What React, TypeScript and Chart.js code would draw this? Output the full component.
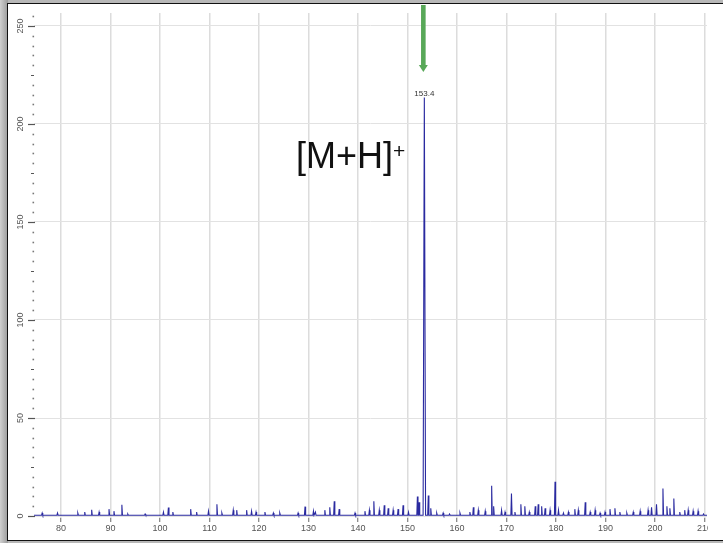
import React, { useEffect, useRef } from "react";
import { Chart, registerables } from "chart.js";
Chart.register(...registerables);

// m/z of each peak and its intensity
const peakMz = [
  76.2, 79.3, 83.4, 84.8, 86.2, 87.7, 89.7, 90.7, 92.3, 93.5, 97.0,
  100.7, 101.7, 102.6, 106.2, 107.4, 109.8, 111.5, 112.5, 114.8, 115.5, 117.5,
  118.5, 119.4, 121.2, 122.9, 124.2, 127.9, 129.3, 131.0, 131.4, 133.3, 134.3,
  135.2, 136.2, 139.4, 141.4, 142.3, 143.2, 144.3, 145.3, 146.1, 147.1, 148.1,
  149.1, 150.2, 152.0, 152.35, 153.4, 154.2, 154.7, 155.9, 157.2, 158.5, 160.6,
  162.6, 163.3, 164.3, 165.7, 167.0, 167.4, 169.0, 169.7, 171.0, 171.7, 172.9,
  173.7, 174.6, 175.8, 176.4, 177.1, 177.8, 178.8, 179.8, 180.5, 181.5, 182.5,
  183.8, 184.5, 185.9, 186.9, 187.9, 188.9, 189.9, 190.9, 191.9, 192.9, 194.3,
  195.6, 197.0, 198.6, 199.3, 200.3, 201.6, 202.4, 203.0, 203.8, 205.0, 206.0,
  206.7, 207.7, 208.7, 209.8,
];
const peakIntensity = [
  1.5, 1.5, 1.5, 2, 3.2, 2, 3.5, 2.5, 5.8, 1, 1,
  2, 4.3, 2, 3.5, 2, 2.5, 6, 1.5, 3, 3, 3,
  2.5, 2, 2, 1.5, 1.5, 1.5, 4.8, 2.5, 2, 3, 4.5,
  7.5, 3.5, 1.5, 2.5, 3, 7.5, 3, 5.5, 4, 3, 3.5,
  5.5, 2, 10, 7, 213.5, 10.5, 4, 1.5, 1.5, 1, 1.5,
  2, 4.5, 3, 2.5, 15.5, 5, 3, 2, 11.5, 2, 6,
  5, 2, 5, 6, 5, 4, 3, 17.5, 3, 1.5, 2,
  3.5, 3, 7, 2, 3, 1.5, 2, 3.5, 4, 2, 1.5,
  2, 2.5, 3, 4.5, 6, 14, 5, 4, 9, 2, 3,
  3, 2.5, 2.5, 1,
];
const baseLevel = 0.4;
const xMin = 74.55;
const xMax = 210.5;
const yMin = -1;
const yMax = 256.6;
const xStep = 10;
const yLabelValues = [0, 50, 100, 150, 200, 250];
const peakLabelMz = 153.4;
const peakLabelText = "153.4";
const ionText = "[M+H]";
const ionCharge = "+";

function buildPoints() {
  const pts: { x: number; y: number }[] = [{ x: xMin, y: baseLevel }];
  peakMz.forEach((mz, i) => {
    const v = peakIntensity[i];
    const hw = v > 100 ? 0.25 : 0.12;
    pts.push({ x: mz - hw, y: baseLevel }, { x: mz, y: v }, { x: mz + hw, y: baseLevel });
  });
  pts.push({ x: xMax, y: baseLevel });
  return pts;
}

const decor = {
  id: "decor",
  afterDraw(chart: any) {
    const ctx = chart.ctx;
    const y = chart.scales.y;
    const x = chart.scales.x;
    ctx.save();
    // y ticks: dots every 5, dash every 25, long dash every 50
    for (let v = 0; v <= 255; v += 5) {
      const py = Math.round(y.getPixelForValue(v)) + 0.5;
      ctx.strokeStyle = "#555";
      ctx.fillStyle = "#777";
      if (v % 50 === 0) {
        ctx.lineWidth = 1.2;
        ctx.beginPath();
        ctx.moveTo(28, py);
        ctx.lineTo(35, py);
        ctx.stroke();
      } else if (v % 25 === 0) {
        ctx.lineWidth = 1;
        ctx.beginPath();
        ctx.moveTo(31, py);
        ctx.lineTo(34, py);
        ctx.stroke();
      } else {
        ctx.fillRect(32.5, py - 0.8, 1.6, 1.6);
      }
    }
    ctx.font = "9px 'Liberation Sans', Arial, sans-serif";
    ctx.fillStyle = "#555";
    ctx.textAlign = "center";
    ctx.textBaseline = "middle";
    yLabelValues.forEach((v) => {
      const py = y.getPixelForValue(v);
      ctx.save();
      ctx.translate(21, py);
      ctx.rotate(-Math.PI / 2);
      ctx.fillText(String(v), 0, 0);
      ctx.restore();
    });
    // peak label
    const peakIdx = peakMz.indexOf(peakLabelMz);
    const px = x.getPixelForValue(peakLabelMz);
    const pTop = y.getPixelForValue(peakIntensity[peakIdx]);
    ctx.font = "8px 'Liberation Sans', Arial, sans-serif";
    ctx.fillStyle = "#333";
    ctx.textBaseline = "alphabetic";
    ctx.fillText(peakLabelText, px, pTop - 1.5);
    // green arrow
    const ax = px - 1;
    ctx.fillStyle = "#58a858";
    ctx.fillRect(ax - 2.3, 5, 4.6, 61);
    ctx.beginPath();
    ctx.moveTo(ax - 4.5, 65);
    ctx.lineTo(ax + 4.5, 65);
    ctx.lineTo(ax, 72);
    ctx.closePath();
    ctx.fill();
    ctx.restore();
  },
};

export default function App() {
  const ref = useRef<HTMLCanvasElement>(null);
  useEffect(() => {
    if (!ref.current) return;
    const chart = new Chart(ref.current, {
      type: "line",
      data: {
        datasets: [
          {
            data: buildPoints(),
            borderColor: "#2a2aa0",
            borderWidth: 1.1,
            pointRadius: 0,
            tension: 0,
            fill: false,
          },
        ],
      },
      options: {
        responsive: false,
        animation: false,
        parsing: true,
        layout: { padding: { left: 0, top: 13, right: 1, bottom: 0 } },
        plugins: { legend: { display: false }, tooltip: { enabled: false } },
        scales: {
          x: {
            type: "linear",
            min: xMin,
            max: xMax,
            border: { display: false },
            grid: { color: "#dcdcdc", lineWidth: 1.5, tickLength: 4, tickColor: "#666", tickWidth: 1 },
            ticks: {
              stepSize: xStep,
              includeBounds: false,
              padding: 1,
              color: "#555",
              font: { family: "'Liberation Sans', Arial, sans-serif", size: 9 },
              maxRotation: 0,
              autoSkip: false,
            },
            afterFit: (s: any) => {
              s.height = 25;
              s.paddingLeft = 0;
              s.paddingRight = 0;
            },
          },
          y: {
            type: "linear",
            min: yMin,
            max: yMax,
            border: { display: false },
            grid: { color: "#e2e2e2", lineWidth: 1, drawTicks: false },
            ticks: { display: false, stepSize: 50, includeBounds: false },
            afterFit: (s: any) => {
              s.width = 34;
              s.paddingTop = 0;
              s.paddingBottom = 0;
            },
          },
        },
      },
      plugins: [decor],
    });
    return () => chart.destroy();
  }, []);

  return (
    <div style={{ position: "fixed", left: 0, top: 0, width: 723, height: 543, overflow: "hidden", background: "#b8b8b8" }}>
      <div style={{ position: "absolute", left: 0, top: 0, width: 8, height: 543, background: "linear-gradient(to right, #d0d0d0, #9a9a9a)" }} />
      <div
        style={{
          position: "absolute",
          left: 7,
          top: 3,
          width: 730,
          height: 536,
          background: "#fff",
          borderLeft: "1.5px solid #111",
          borderTop: "1.5px solid #111",
          borderBottom: "1.5px solid #111",
        }}
      />
      <canvas ref={ref} width={708} height={543} style={{ position: "absolute", left: 0, top: 0, display: "block" }} />
      <div
        style={{
          position: "absolute",
          left: 296,
          top: 138,
          fontFamily: "'Liberation Sans', Arial, sans-serif",
          fontSize: 36,
          lineHeight: "36px",
          color: "#111",
          whiteSpace: "nowrap",
        }}
      >
        {ionText}
        <span style={{ fontSize: 21, position: "relative", top: -10 }}>{ionCharge}</span>
      </div>
    </div>
  );
}
